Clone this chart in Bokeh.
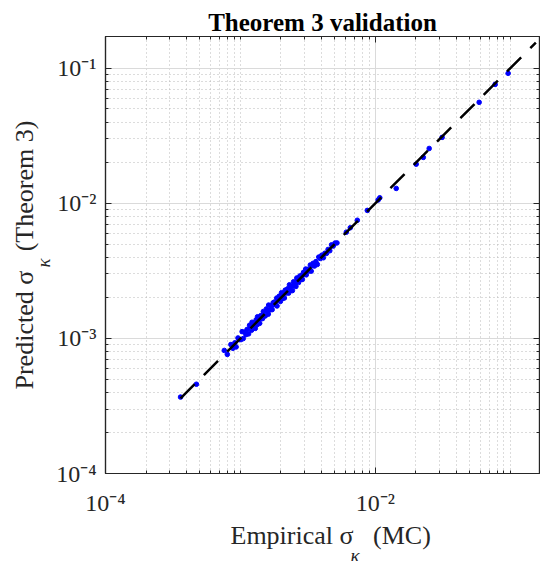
from bokeh.plotting import figure
from bokeh.models import FixedTicker, LogAxis, Range1d, Title
from bokeh.embed import file_html
from bokeh.resources import INLINE

# ---------------- data ----------------
emp_sigma = [
    0.00036, 0.000472, 0.00076, 0.00080,
    0.00085, 0.00088, 0.00091, 0.00093, 0.00096, 0.00098, 0.00101, 0.00103, 0.00105, 0.00108,
    0.00110, 0.00112, 0.00115, 0.00117, 0.00119, 0.00121, 0.00122, 0.00124, 0.00127, 0.00129,
    0.00131, 0.00133, 0.00134, 0.00137, 0.00139, 0.00142, 0.00145, 0.00146, 0.00148, 0.00150,
    0.00153, 0.00156, 0.00159, 0.00161, 0.00162, 0.00166, 0.00169, 0.00172, 0.00175, 0.00176,
    0.00179, 0.00183, 0.00186, 0.00187, 0.00190, 0.00194, 0.00198, 0.00201, 0.00202, 0.00206,
    0.00210, 0.00212, 0.00215, 0.00219, 0.00224, 0.00228, 0.00231, 0.00233, 0.00238, 0.00243,
    0.00248, 0.00251, 0.00253, 0.00258, 0.00262, 0.00264, 0.00270, 0.00276, 0.00282, 0.00285,
    0.00288, 0.00294, 0.00301, 0.00305, 0.00308, 0.00315, 0.00322, 0.00330, 0.00335, 0.00338,
    0.00346, 0.00354, 0.00363, 0.00372, 0.00381, 0.00391, 0.00401, 0.00412, 0.00423, 0.00435,
    0.00447, 0.00460, 0.00474, 0.00488, 0.00503, 0.00520,
    0.0061, 0.00653, 0.00736, 0.00873, 0.0105, 0.0108, 0.0143, 0.0201, 0.0227, 0.0251,
    0.0313, 0.0589, 0.0774, 0.0966,
]
pred_sigma = [
    0.000368, 0.000458, 0.000815, 0.000762,
    0.000901, 0.000845, 0.000928, 0.000865, 0.001008, 0.00098, 0.00098, 0.001123, 0.000998, 0.001112,
    0.001067, 0.001165, 0.001081, 0.001252, 0.001202, 0.00115, 0.001318, 0.001215, 0.001308, 0.001187,
    0.001376, 0.001264, 0.001447, 0.001356, 0.001293, 0.001477, 0.001465, 0.001402, 0.001584, 0.00147,
    0.001469, 0.001654, 0.00159, 0.001513, 0.001766, 0.001627, 0.001741, 0.001634, 0.001838, 0.001778,
    0.001862, 0.001775, 0.00199, 0.001739, 0.001938, 0.002056, 0.001881, 0.00201, 0.002182, 0.001978,
    0.002163, 0.001993, 0.002279, 0.002168, 0.00233, 0.002166, 0.002495, 0.00226, 0.002428, 0.00226,
    0.002629, 0.00246, 0.002581, 0.002425, 0.002803, 0.00264, 0.002592, 0.002898, 0.002735, 0.002936,
    0.002736, 0.003087, 0.00298, 0.003264, 0.002957, 0.003245, 0.003156, 0.003498, 0.003149, 0.003448,
    0.003598, 0.003434, 0.003703, 0.003534, 0.004001, 0.00391, 0.00413, 0.003955, 0.004272, 0.004263,
    0.004559, 0.004462, 0.00493, 0.004831, 0.00508, 0.005096,
    0.00612, 0.0066, 0.0075, 0.00887, 0.0106, 0.0110, 0.0129, 0.0195, 0.0219, 0.0255,
    0.0308, 0.0560, 0.0760, 0.0918,
]
ref_line = [0.00036, 0.155]          # y = x reference line extent

x_ticks = [1e-4, 1e-2]
x_tick_labels = ["10\u207b\u2074", "10\u207b\u00b2"]
y_ticks = [1e-4, 1e-3, 1e-2, 1e-1]
y_tick_labels = ["10\u207b\u2074", "10\u207b\u00b3", "10\u207b\u00b2", "10\u207b\u00b9"]

title_text = "Theorem 3 validation"
NB3 = "\u00a0\u00a0\u00a0"
xlabel_main, xlabel_sub = "Empirical \u03c3" + NB3 + "(MC)", "\u03ba"
ylabel_main, ylabel_sub = "Predicted \u03c3" + NB3 + "(Theorem 3)", "\u03ba"

# ---------------- styling ----------------
SERIF = "Liberation Serif"
AX = "#262626"

decades = [1e-4, 1e-3, 1e-2, 1e-1]
all_steps = [m * d for d in decades for m in range(1, 10)]
x_minor = [v for v in all_steps if v not in x_ticks]
y_minor = [v for v in all_steps if v not in y_ticks]

p = figure(width=540, height=561, x_axis_type="log", y_axis_type="log",
           x_range=Range1d(1e-4, 0.165), y_range=Range1d(1e-4, 0.172),
           output_backend="svg", toolbar_location=None,
           min_border_left=105, min_border_right=1, min_border_top=36, min_border_bottom=88)
p.background_fill_color = "white"
p.border_fill_color = "white"
p.outline_line_color = AX
p.outline_line_width = 1.2

xt = FixedTicker(ticks=x_ticks, minor_ticks=x_minor)
yt = FixedTicker(ticks=y_ticks, minor_ticks=y_minor)

def style_axis(ax, ticker, labels, ticks, show_labels=True, standoff=9):
    ax.ticker = ticker
    ax.axis_line_color = AX
    ax.axis_line_width = 1.2
    ax.major_tick_line_color = AX
    ax.minor_tick_line_color = AX
    ax.major_tick_in = 6
    ax.major_tick_out = 0
    ax.minor_tick_in = 3
    ax.minor_tick_out = 0
    ax.major_label_text_font = SERIF
    ax.major_label_text_color = AX
    if show_labels:
        ax.major_label_overrides = dict(zip(ticks, labels))
        ax.major_label_text_font_size = "24px"
        ax.major_label_standoff = standoff
    else:
        ax.major_label_overrides = {t: "" for t in ticks}
        ax.major_label_text_font_size = "0px"
        ax.major_label_standoff = 0

style_axis(p.xaxis[0], xt, x_tick_labels, x_ticks, standoff=16)
style_axis(p.yaxis[0], yt, y_tick_labels, y_ticks, standoff=9)

top_ax = LogAxis()
style_axis(top_ax, xt, x_tick_labels, x_ticks, show_labels=False)
p.add_layout(top_ax, "above")
right_ax = LogAxis()
style_axis(right_ax, yt, y_tick_labels, y_ticks, show_labels=False)
p.add_layout(right_ax, "right")

for g, t in ((p.xgrid[0], xt), (p.ygrid[0], yt)):
    g.ticker = t
    g.grid_line_color = "#dadada"
    g.grid_line_width = 1
    g.minor_grid_line_color = "#b8b8b8"
    g.minor_grid_line_width = 1
    g.minor_grid_line_dash = "1 3"

p.title.text = title_text
p.title.text_font = SERIF
p.title.text_font_size = "25px"
p.title.text_font_style = "bold"
p.title.text_color = "black"
p.title.align = "center"
p.title.offset = -7
p.title.standoff = 2

# points then the dashed y=x line on top
p.scatter(emp_sigma, pred_sigma, marker="circle", size=4.6, color="blue")
p.line(ref_line, ref_line, line_color="black", line_width=2.5, line_dash="20 13")

# axis labels: main text row plus a lowered italic subscript row
def side_title(text, size, offset, standoff, style="normal"):
    return Title(text=text, align="left", offset=offset, standoff=standoff,
                 text_font=SERIF, text_font_size=f"{size}px",
                 text_font_style=style, text_color=AX)

p.add_layout(side_title(xlabel_main, 26, 125, 1), "below")
p.add_layout(side_title(xlabel_sub, 19, 245, -16, "italic"), "below")

p.add_layout(side_title(ylabel_sub, 19, 206, 0, "italic"), "left")
p.add_layout(side_title(ylabel_main, 26, 84, -17), "left")

open("out.html", "w").write(file_html(p, INLINE))
